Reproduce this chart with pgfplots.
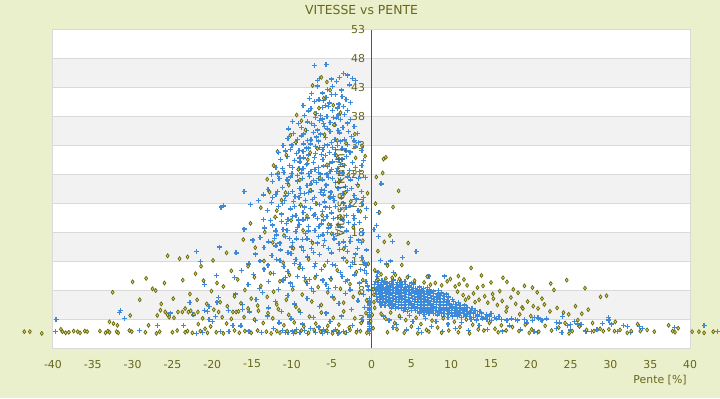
\documentclass[border=0pt]{standalone}
\usepackage{pgfplots}
\pgfplotsset{compat=1.18}
\usepackage{fontspec}
\setmainfont{DejaVu Sans}
\definecolor{bg}{HTML}{EBF0CC}
\definecolor{olivetxt}{HTML}{66661E}
\definecolor{axisolive}{HTML}{5C5C10}
\definecolor{bandgray}{HTML}{F2F2F2}
\definecolor{gridgray}{HTML}{D9D9D9}
\definecolor{ptblue}{HTML}{3C8AD9}
\definecolor{ptolive}{HTML}{666600}
\definecolor{olivefill}{HTML}{D6D68A}
\pgfplotsset{set layers}
\begin{document}
\pagecolor{bg}
\begin{tikzpicture}[x=1bp,y=1bp]
\path (0,0) rectangle (720,400);
\begin{axis}[
  at={(50bp,50bp)}, anchor=south west,
  width=640bp, height=320bp, scale only axis,
  xmin=-40, xmax=40, ymin=-2, ymax=53,
  xtick={-40,-35,...,40},
  ytick={-2,3,8,13,18,23,28,33,38,43,48,53},
  yticklabels={3,3,8,13,18,23,28,33,38,43,48,53},
  axis x line*=bottom, axis y line*=middle,
  x axis line style={gridgray, line width=1bp, -},
  y axis line style={axisolive, line width=1.5bp, -},
  major tick length=0pt,
  ymajorgrids, major grid style={gridgray, line width=0.8bp},
  /pgf/number format/assume math mode=true,
  ticklabel style={font=\fontsize{11}{13}\selectfont, text=olivetxt},
  xticklabel style={yshift=-8bp},
  yticklabel style={xshift=-3bp},
  clip=false,
  bluepts/.style={only marks, mark=+, mark size=2.5bp, color=ptblue, mark options={line width=1.3bp}},
  olivpts/.style={only marks, mark=diamond*, mark size=2.0bp, color=ptolive, mark options={fill=olivefill, draw=ptolive, line width=0.7bp}},
]
\begin{pgfonlayer}{axis background}
\fill[white] (axis cs:-40,-2) rectangle (axis cs:40,53);
\fill[bandgray] (axis cs:-40,3) rectangle (axis cs:40,8);
\fill[bandgray] (axis cs:-40,13) rectangle (axis cs:40,18);
\fill[bandgray] (axis cs:-40,23) rectangle (axis cs:40,28);
\fill[bandgray] (axis cs:-40,33) rectangle (axis cs:40,38);
\fill[bandgray] (axis cs:-40,43) rectangle (axis cs:40,48);
\draw[gridgray, line width=1bp] (axis cs:-40,-2) rectangle (axis cs:40,53);
\end{pgfonlayer}
% ---- blue, right band core
\addplot[bluepts] coordinates {
(0.5,9.6) (0.9,9.4) (1.3,9.7) (1.6,9.5) (2.0,9.3) (2.5,9.6) (2.8,9.8) (3.3,9.4) (3.7,9.6) (4.2,9.5) (5.0,9.3)
(0.4,9.0) (0.8,9.1) (1.2,8.9) (1.5,9.0) (1.9,9.2) (2.3,8.9) (2.7,9.1) (3.1,9.0) (3.5,8.8) (3.9,9.1) (4.3,9.0) (4.8,8.9) (5.3,9.1)
(0.4,8.5) (0.7,8.4) (1.1,8.6) (1.5,8.5) (1.8,8.3) (2.2,8.6) (2.6,8.5) (3.0,8.4) (3.4,8.6) (3.8,8.5) (4.2,8.3) (4.6,8.6) (5.0,8.5) (5.5,8.4) (6.0,8.6) (6.5,8.4) (7.0,8.5)
(0.5,8.0) (0.9,7.9) (1.3,8.1) (1.7,8.0) (2.0,7.8) (2.4,8.1) (2.8,8.0) (3.2,7.9) (3.6,8.1) (4.0,8.0) (4.4,7.8) (4.8,8.1) (5.2,8.0) (5.6,7.9) (6.0,8.1) (6.4,8.0) (6.9,7.8) (7.3,8.1) (7.8,7.9) (8.4,8.0)
(0.6,7.5) (1.0,7.4) (1.4,7.6) (1.8,7.5) (2.2,7.3) (2.6,7.6) (3.0,7.5) (3.4,7.4) (3.8,7.6) (4.2,7.5) (4.6,7.3) (5.0,7.6) (5.4,7.5) (5.8,7.4) (6.2,7.6) (6.6,7.5) (7.0,7.3) (7.4,7.6) (7.8,7.5) (8.3,7.4) (8.8,7.6) (9.4,7.4)
(0.6,7.0) (1.0,6.9) (1.4,7.1) (1.8,7.0) (2.2,6.8) (2.6,7.1) (3.0,7.0) (3.4,6.9) (3.8,7.1) (4.2,7.0) (4.6,6.8) (5.0,7.1) (5.4,7.0) (5.8,6.9) (6.2,7.1) (6.6,7.0) (7.0,6.8) (7.4,7.1) (7.8,7.0) (8.2,6.9) (8.6,7.1) (9.1,7.0) (9.7,6.9)
(0.7,6.5) (1.1,6.4) (1.5,6.6) (1.9,6.5) (2.3,6.3) (2.7,6.6) (3.1,6.5) (3.5,6.4) (3.9,6.6) (4.3,6.5) (4.7,6.3) (5.1,6.6) (5.5,6.5) (5.9,6.4) (6.3,6.6) (6.7,6.5) (7.1,6.3) (7.5,6.6) (7.9,6.5) (8.3,6.4) (8.7,6.6) (9.1,6.5) (9.6,6.3) (10.2,6.5)
(1.0,6.0) (1.4,5.9) (1.8,6.1) (2.2,6.0) (2.6,5.8) (3.0,6.1) (3.4,6.0) (3.8,5.9) (4.2,6.1) (4.6,6.0) (5.0,5.8) (5.4,6.1) (5.8,6.0) (6.2,5.9) (6.6,6.1) (7.0,6.0) (7.4,5.8) (7.8,6.1) (8.2,6.0) (8.6,5.9) (9.0,6.1) (9.4,6.0) (9.8,5.8) (10.3,6.1) (10.9,5.9)
(1.2,5.5) (1.7,5.4) (2.2,5.6) (2.6,5.5) (3.0,5.3) (3.4,5.6) (3.8,5.5) (4.2,5.4) (4.6,5.6) (5.0,5.5) (5.4,5.3) (5.8,5.6) (6.2,5.5) (6.6,5.4) (7.0,5.6) (7.4,5.5) (7.8,5.3) (8.2,5.6) (8.6,5.5) (9.0,5.4) (9.4,5.6) (9.8,5.5) (10.2,5.3) (10.6,5.6) (11.1,5.4) (11.7,5.5)
(2.5,5.0) (3.0,4.9) (3.4,5.1) (3.8,5.0) (4.2,4.8) (4.6,5.1) (5.0,5.0) (5.4,4.9) (5.8,5.1) (6.2,5.0) (6.6,4.8) (7.0,5.1) (7.4,5.0) (7.8,4.9) (8.2,5.1) (8.6,5.0) (9.0,4.8) (9.4,5.1) (9.8,5.0) (10.2,4.9) (10.6,5.1) (11.0,5.0) (11.5,4.8) (12.0,5.1) (12.6,4.9)
(4.0,4.5) (4.5,4.4) (5.0,4.6) (5.5,4.5) (6.0,4.3) (6.4,4.6) (6.8,4.5) (7.2,4.4) (7.6,4.6) (8.0,4.5) (8.4,4.3) (8.8,4.6) (9.2,4.5) (9.6,4.4) (10.0,4.6) (10.4,4.5) (10.8,4.3) (11.2,4.6) (11.6,4.5) (12.0,4.4) (12.5,4.6) (13.0,4.5) (13.6,4.4)
(6.0,4.0) (6.6,3.9) (7.2,4.1) (7.8,4.0) (8.3,3.8) (8.8,4.1) (9.2,4.0) (9.6,3.9) (10.0,4.1) (10.4,4.0) (10.8,3.8) (11.2,4.1) (11.6,4.0) (12.0,3.9) (12.4,4.1) (12.8,4.0) (13.3,3.8) (13.8,4.1) (14.4,3.9) (15.0,4.0)
(9.0,3.5) (9.6,3.4) (10.2,3.6) (10.8,3.5) (11.3,3.3) (11.8,3.6) (12.3,3.5) (12.8,3.4) (13.3,3.6) (13.8,3.5) (14.3,3.3) (14.8,3.6) (15.4,3.4) (16.0,3.5)
(12.5,3.0) (13.2,2.9) (13.9,3.1) (14.5,3.0) (15.1,2.8) (15.7,3.1) (16.3,3.0) (17.0,2.9) (17.6,3.1) (18.3,2.9) (19.2,3.0) (20.2,2.8) (21.0,3.2) (21.4,2.9) (22.0,3.1) (24.0,3.5) (25.5,2.6) (29.8,2.9) (21.2,3.0)
(20.5,3.4) (20.9,3.3) (18.1,3.0) (23.25,2.5) (23.6,2.4) (24.6,2.0) (25.0,2.1) (25.9,2.2) (26.3,2.1) (29.0,2.3) (29.75,3.3) (31.6,2.0) (33.6,1.8) (34.0,1.5) (32.5,0.8) (23.9,0.8) (20.4,0.9) (20.8,0.8) (41.75,2.0) (43.4,0.9) (30.9,0.9) (27.0,0.9) (27.6,0.9)
};
% ---- blue, right scattered
\addplot[bluepts] coordinates {
(1.5,3.6) (2.2,2.9) (3.1,2.1) (3.6,3.4) (4.4,1.2) (5.2,2.6) (5.9,1.5) (6.8,3.2) (7.5,1.8) (8.1,2.7) (8.9,0.9) (9.6,2.2) (10.5,1.4) (11.3,2.5) (12.2,1.1) (13.5,2.0) (14.6,1.3) (16.4,1.0) (17.3,1.9) (18.7,1.2) (19.5,2.4) (23.2,1.4) (25.0,1.2) (26.9,1.0) (28.3,1.2) (30.1,2.2) (32.1,1.8) (38.0,1.6) (2.7,1.6) (6.3,0.7) (4.8,3.7)
(0.8,11.2) (1.9,12.6) (2.4,13.1) (3.9,13.7) (4.6,10.4) (7.2,10.5) (5.3,9.3) (1.1,13.2) (0.7,10.4) (5.6,14.8) (2.6,16.5) (0.6,19.2) (0.9,21.5) (1.2,26.4) (0.9,17.3) (0.3,18.5) (9.2,10.5) (2.8,11.1)
(-0.25,0.6) (-0.25,0.9) (-0.25,1.2) (-0.25,1.5) (-0.25,1.8) (-0.25,2.1) (-0.25,2.4) (-0.25,2.7) (-0.25,3.0) (-0.25,3.3) (-0.25,3.6) (-0.25,3.9) (-0.25,4.2) (-0.25,4.5) (-0.25,4.8) (-0.25,5.1) (-0.25,5.4) (-0.25,5.7) (-0.25,6.0) (-0.25,6.3) (-0.25,6.6)
(-0.6,11.0) (-0.9,12.8) (-0.4,8.1) (-0.7,9.6) (-1.0,7.3)
};
% ---- blue, left cluster
\addplot[bluepts] coordinates {
(-7.2,46.8) (-5.7,47.0) (-6.5,44.6) (-5.0,44.5) (-4.0,44.8) (-3.5,45.5) (-3.0,45.2) (-2.4,44.6) (-6.8,44.2) (-4.4,44.1) (-2.0,44.3)
(-7.5,42.0) (-7.2,40.6) (-6.2,42.1) (-5.7,41.3) (-5.3,40.4) (-4.9,43.2) (-4.5,41.8) (-6.8,43.3) (-3.8,42.6) (-3.2,41.0) (-4.1,40.2) (-6.0,40.8) (-2.8,43.5) (-5.5,42.7) (-7.8,41.2) (-3.5,39.8)
(-8.4,38.2) (-8.0,37.1) (-7.6,39.4) (-7.2,36.5) (-6.9,38.6) (-6.5,37.4) (-6.2,39.6) (-5.9,36.3) (-5.6,38.1) (-5.2,37.0) (-4.9,39.1) (-4.6,36.6) (-4.2,38.3) (-3.9,37.5) (-3.4,38.4) (-3.0,36.9) (-7.0,37.9) (-5.4,39.8) (-4.4,37.8) (-8.8,36.2) (-6.0,36.8) (-2.6,37.5)
(-11.1,33.0) (-10.5,34.2) (-10.2,32.4) (-9.8,35.1) (-9.5,33.6) (-9.1,32.2) (-8.8,34.7) (-8.5,33.3) (-8.2,35.6) (-7.9,32.6) (-7.6,34.0) (-7.3,35.3) (-7.0,32.9) (-6.7,33.8) (-6.4,35.0) (-6.1,32.3) (-5.8,34.4) (-5.5,33.1) (-5.2,35.4) (-4.9,32.7) (-4.6,34.1) (-4.3,33.0) (-4.0,35.2) (-3.7,32.5) (-3.4,34.0) (-3.0,33.2) (-2.5,34.6) (-2.0,32.8) (-1.6,33.5) (-6.9,34.5) (-8.0,33.9) (-5.0,33.6)
(-12.0,29.3) (-11.4,30.6) (-11.0,28.4) (-10.6,31.2) (-10.3,29.6) (-10.0,28.2) (-9.7,30.4) (-9.4,31.6) (-9.1,29.0) (-8.8,28.3) (-8.5,30.9) (-8.2,29.7) (-7.9,31.4) (-7.6,28.6) (-7.3,30.1) (-7.0,31.7) (-6.7,29.2) (-6.4,28.1) (-6.1,30.6) (-5.8,31.3) (-5.5,29.4) (-5.2,28.5) (-4.9,30.2) (-4.6,31.5) (-4.3,29.1) (-4.0,28.2) (-3.7,30.7) (-3.4,29.6) (-3.1,31.1) (-2.8,28.7) (-2.4,30.1) (-2.0,29.2) (-1.5,28.6) (-1.0,30.4) (-8.0,29.9) (-6.0,29.5) (-9.0,30.2) (-5.0,28.9) (-7.1,28.9) (-3.9,29.8)
(-13.0,25.4) (-12.4,26.8) (-12.0,24.6) (-11.6,27.3) (-11.2,25.8) (-10.8,24.3) (-10.5,26.5) (-10.2,27.6) (-9.9,25.1) (-9.6,24.2) (-9.3,26.9) (-9.0,25.6) (-8.7,27.4) (-8.4,24.7) (-8.1,26.1) (-7.8,27.7) (-7.5,25.2) (-7.2,24.1) (-6.9,26.6) (-6.6,27.3) (-6.3,25.5) (-6.0,24.5) (-5.7,26.2) (-5.4,27.5) (-5.1,25.0) (-4.8,24.2) (-4.5,26.7) (-4.2,25.6) (-3.9,27.2) (-3.6,24.7) (-3.3,26.0) (-3.0,25.3) (-2.6,27.1) (-2.2,24.4) (-1.8,26.3) (-1.3,25.1) (-0.8,27.5) (-7.6,26.4) (-5.9,25.3) (-8.9,24.8)
(-13.1,21.8) (-12.6,23.2) (-12.1,20.6) (-11.7,22.5) (-11.3,21.2) (-10.9,23.6) (-10.5,20.3) (-10.2,22.1) (-9.8,23.4) (-9.5,21.0) (-9.2,20.2) (-8.9,22.7) (-8.6,21.5) (-8.3,23.5) (-8.0,20.5) (-7.7,22.2) (-7.4,23.7) (-7.1,21.1) (-6.8,20.4) (-6.5,22.8) (-6.2,21.6) (-5.9,23.3) (-5.6,20.8) (-5.3,22.3) (-5.0,21.4) (-4.7,23.5) (-4.3,20.6) (-3.9,22.0) (-3.5,23.1) (-3.1,21.0) (-2.7,22.6) (-2.2,20.4) (-1.7,21.8) (-1.2,23.0) (-18.9,22.4) (-18.6,22.6) (-16.0,25.1) (-15.2,22.9) (-14.2,23.6)
(-14.0,17.2) (-13.4,18.8) (-12.9,16.4) (-12.4,19.3) (-11.9,17.6) (-11.5,16.2) (-11.1,18.5) (-10.7,19.6) (-10.3,17.0) (-9.9,16.3) (-9.5,18.2) (-9.1,19.4) (-8.7,16.8) (-8.3,17.9) (-7.9,19.1) (-7.5,16.5) (-7.1,18.4) (-6.7,17.3) (-6.3,19.5) (-5.9,16.6) (-5.5,18.0) (-5.1,19.2) (-4.7,16.9) (-4.3,17.8) (-3.9,19.0) (-3.5,16.4) (-3.1,18.3) (-2.6,17.1) (-2.1,19.4) (-1.6,16.7) (-1.1,18.0) (-16.0,18.6) (-14.9,16.7)
(-15.4,12.6) (-14.6,14.3) (-14.0,13.1) (-13.5,15.4) (-13.0,12.4) (-12.5,14.0) (-12.0,15.7) (-11.5,13.2) (-11.0,12.2) (-10.5,14.6) (-10.0,15.5) (-9.5,13.4) (-9.0,12.5) (-8.5,14.9) (-8.0,13.8) (-7.5,15.3) (-7.0,12.7) (-6.5,14.2) (-6.0,15.8) (-5.5,13.0) (-5.0,14.5) (-4.5,12.3) (-4.0,15.1) (-3.5,13.6) (-3.0,14.8) (-2.4,12.9) (-1.8,15.2) (-1.2,13.7) (-0.7,12.4) (-17.0,14.5) (-22.0,14.7) (-21.5,13.0) (-19.1,15.5)
(-17.2,10.2) (-16.3,11.5) (-15.5,9.0) (-14.8,10.8) (-14.1,8.4) (-13.5,11.7) (-12.9,9.6) (-12.3,10.9) (-11.7,8.2) (-11.1,9.8) (-10.5,11.3) (-9.9,8.7) (-9.3,10.4) (-8.7,11.8) (-8.1,9.2) (-7.5,8.3) (-6.9,10.6) (-6.3,11.6) (-5.7,9.1) (-5.1,10.1) (-4.5,8.5) (-3.9,11.1) (-3.3,9.5) (-2.7,8.1) (-2.1,10.7) (-1.5,9.3) (-0.9,11.4) (-0.5,8.8) (-19.5,10.6) (-21.0,9.0)
(-20.4,5.2) (-19.2,6.8) (-18.0,4.6) (-17.1,7.4) (-16.2,5.6) (-15.3,4.3) (-14.5,6.5) (-13.7,7.7) (-12.9,5.0) (-12.1,6.1) (-11.3,4.4) (-10.5,7.2) (-9.7,5.7) (-8.9,4.2) (-8.1,6.6) (-7.3,7.8) (-6.5,5.3) (-5.7,4.1) (-4.9,6.9) (-4.1,5.8) (-3.3,7.5) (-2.5,4.7) (-1.7,6.2) (-0.9,5.1) (-22.8,5.9) (-25.2,4.1)
(-39.6,3.0) (-39.7,0.9) (-31.6,4.2) (-31.5,4.6) (-31.0,3.2) (-29.1,1.1) (-26.9,2.0) (-23.6,2.0) (-22.4,3.8) (-22.0,0.6) (-21.2,0.7) (-21.0,4.5) (-20.6,4.4) (-20.4,3.0) (-20.0,2.6) (-19.4,6.0) (-19.6,3.5) (-19.0,0.9) (-17.9,0.9) (-17.4,2.0) (-16.4,1.9) (-16.2,4.7) (-15.4,1.0) (-14.6,2.8) (-13.8,0.8) (-13.1,3.6) (-12.3,1.5) (-11.6,2.4) (-10.8,0.7) (-10.1,3.1) (-9.4,1.3) (-8.7,2.2) (-8.0,0.6) (-7.3,3.4) (-6.6,1.7) (-5.9,0.9) (-5.2,2.7) (-4.5,1.2) (-3.8,3.6) (-3.1,0.7) (-2.4,2.0) (-1.8,1.1) (-1.2,3.0) (-6.2,0.6) (-7.7,1.4) (-9.8,0.6) (-11.2,1.1) (-4.0,0.8)
(-10.5,0.8) (-9.9,1.0) (-9.0,0.7) (-8.4,1.1) (-7.0,0.8) (-6.0,1.2) (-5.5,0.7) (-4.8,1.0) (-4.2,0.6) (-3.5,0.9)
};
% ---- olive
\addplot[olivpts] coordinates {
(-43.6,0.9) (-42.9,0.9) (-41.4,0.6) (-39.0,1.3) (-38.8,0.9) (-38.4,0.7) (-38.0,0.8) (-37.4,1.0) (-36.9,0.9) (-36.6,0.7) (-36.0,1.0) (-35.7,0.9) (-34.1,1.0) (-33.4,0.7) (-33.1,1.0) (-32.9,0.8) (-32.0,0.9) (-31.8,0.7) (-30.4,1.1) (-30.1,0.9) (-28.4,0.8) (-27.0,0.6) (-26.6,0.9) (-25.0,0.8) (-24.4,1.1) (-23.4,0.8) (-23.1,1.0) (-22.5,0.7) (-21.5,1.0) (-20.9,1.4) (-20.6,0.7) (-19.5,0.8) (-18.6,0.6) (-17.2,1.1) (-16.6,0.7) (-15.9,1.0) (-15.1,0.7) (-14.3,1.1) (-13.2,0.9) (-12.6,0.6) (-11.9,1.0) (-11.5,0.7) (-10.6,1.0) (-9.5,0.8) (-8.8,1.1) (-7.9,0.7) (-7.2,1.2) (-6.4,0.9) (-5.6,1.1) (-4.9,0.6) (-4.3,1.0) (-3.3,0.7) (-2.7,1.2) (-1.9,0.8) (-1.4,1.0) (-0.6,0.7)
(-32.9,2.6) (-32.4,2.3) (-31.9,2.0) (-30.3,3.7) (-26.9,3.7) (-26.5,4.6) (-25.9,4.3) (-25.6,3.8) (-25.4,3.4) (-24.8,3.3) (-24.3,4.3) (-23.75,4.3) (-23.4,4.9) (-23.0,4.3) (-22.7,4.5) (-22.3,3.9) (-21.75,2.2) (-21.8,4.3) (-21.2,3.2) (-19.8,4.7) (-19.2,4.3) (-18.75,3.4) (-17.6,3.1) (-17.4,4.3) (-17.0,4.3) (-16.7,4.4) (-16.0,3.4) (-15.5,4.9) (-14.7,3.0) (-14.2,4.5) (-13.6,2.4) (-13.0,4.1) (-12.4,3.2) (-11.7,4.8) (-11.0,2.0) (-10.4,3.8) (-9.7,2.5) (-9.1,4.6) (-8.5,1.8) (-7.8,3.5) (-7.0,2.3) (-6.3,4.2) (-5.5,1.9) (-4.8,3.3) (-4.1,2.1) (-3.5,4.4) (-2.8,1.6) (-2.1,3.2) (-1.3,2.4) (-0.7,4.1) (-28.0,2.0) (-20.2,1.8) (-18.2,2.3)
(-30.0,9.5) (-27.5,8.3) (-27.1,8.0) (-26.0,9.3) (-25.6,14.0) (-24.1,13.5) (-24.9,6.6) (-23.1,13.8) (-22.1,10.9) (-22.8,7.4) (-21.9,6.4) (-21.1,9.7) (-20.7,5.7) (-20.1,7.9) (-19.4,9.3) (-19.0,6.0) (-18.6,8.7) (-18.1,5.3) (-17.6,11.4) (-17.2,7.0) (-16.8,9.9) (-16.4,5.8) (-15.9,8.1) (-15.5,12.2) (-15.1,6.6) (-14.7,10.3) (-14.3,5.4) (-13.9,8.8) (-13.5,13.1) (-13.1,6.9) (-12.7,11.0) (-12.3,7.8) (-11.9,5.6) (-11.5,9.6) (-11.1,12.8) (-10.7,6.4) (-10.3,10.7) (-9.9,8.2) (-9.5,5.2) (-9.1,11.9) (-8.7,7.3) (-8.3,9.7) (-7.9,13.4) (-7.5,6.1) (-7.1,10.2) (-6.7,8.6) (-6.3,5.5) (-5.9,12.3) (-5.5,7.7) (-5.1,9.9) (-4.7,6.6) (-4.3,11.5) (-3.9,8.3) (-3.5,5.9) (-3.1,13.0) (-2.7,9.1) (-2.3,6.9) (-1.9,11.2) (-1.5,7.6) (-1.1,9.8) (-0.6,6.3) (-0.4,12.6) (-32.5,7.7) (-29.1,6.4) (-28.3,10.1) (-26.4,5.7) (-23.7,9.8) (-21.4,12.2) (-19.9,13.2) (-18.2,14.5)
(-16.1,16.8) (-15.2,19.6) (-14.6,15.4) (-13.9,22.3) (-13.4,18.1) (-12.8,25.0) (-12.4,16.3) (-12.1,20.7) (-11.7,28.3) (-11.3,23.6) (-11.0,17.5) (-10.7,31.4) (-10.4,26.2) (-10.1,20.1) (-9.8,15.3) (-9.5,33.6) (-9.2,28.9) (-8.9,22.8) (-8.6,18.4) (-8.3,35.7) (-8.0,30.6) (-7.7,25.3) (-7.4,16.2) (-7.1,38.6) (-6.8,32.5) (-6.5,27.4) (-6.2,21.0) (-5.9,34.9) (-5.6,29.7) (-5.3,24.1) (-5.0,17.8) (-4.7,36.6) (-4.4,31.3) (-4.1,26.7) (-3.8,20.6) (-3.5,15.2) (-3.2,33.4) (-2.9,28.0) (-2.6,23.4) (-2.3,18.9) (-2.0,30.9) (-1.7,26.1) (-1.4,21.7) (-1.1,16.6) (-0.8,31.2) (-0.5,24.8) (-6.0,41.2) (-5.2,42.6) (-4.8,40.0) (-7.4,43.4) (-6.6,39.5) (-3.9,38.7) (-8.8,37.3) (-10.2,34.8) (-11.8,32.0) (-12.3,29.6) (-13.1,27.2) (-6.3,44.8) (-5.6,44.0) (-9.4,38.3) (-4.3,33.9) (-7.7,31.8) (-9.0,27.1) (-6.9,23.0) (-5.4,19.4) (-3.3,24.9) (-2.1,35.0) (-1.2,33.0) (-8.1,20.9) (-10.8,24.9) (-11.9,21.8)
(0.5,23.0) (1.0,21.5) (1.4,28.3) (1.5,30.7) (1.8,31.0) (2.7,22.4) (3.4,25.2) (2.3,17.5) (1.6,16.4) (4.6,16.2) (0.6,27.6) (0.8,14.8) (2.0,12.3) (0.4,11.5) (1.2,10.8) (3.0,10.7) (3.8,12.4)
(6.6,9.4) (8.0,9.3) (9.9,10.0) (12.5,11.9) (12.0,8.9) (11.0,9.1) (10.5,8.7) (13.3,8.5) (14.0,8.8) (15.0,9.4) (15.2,7.4) (16.1,7.9) (17.0,9.5) (17.8,8.2) (18.4,7.6) (19.2,8.8) (20.2,8.5) (20.8,7.7) (22.5,9.2) (22.9,8.1) (21.4,6.6) (5.4,9.7) (7.4,9.0) (8.8,8.9) (9.5,9.6) (11.6,9.9) (13.8,10.6) (16.5,10.2) (7.0,10.4) (4.5,10.3) (3.5,10.0) (2.6,10.2) (1.8,10.1) (0.8,9.9) (10.9,10.5)
(10.8,7.8) (11.5,7.2) (12.2,6.8) (12.8,7.5) (13.5,6.4) (14.2,7.0) (14.6,5.9) (15.3,6.6) (15.8,5.5) (16.4,6.2) (17.0,5.1) (17.5,6.8) (18.1,5.7) (18.9,5.1) (19.0,4.9) (19.6,6.1) (20.3,5.3) (20.9,4.9) (21.7,5.6) (22.4,4.4) (23.3,5.0) (24.1,4.2) (24.75,3.9) (25.6,5.3) (26.4,4.0) (27.2,4.7) (13.0,6.0) (11.8,6.4) (16.9,4.4) (18.6,3.9) (20.0,3.6)
(1.2,4.0) (1.8,3.1) (2.4,4.2) (2.9,2.4) (3.5,3.6) (4.1,0.7) (4.3,2.9) (5.0,1.8) (5.6,3.3) (6.2,2.2) (6.9,1.2) (7.6,2.8) (8.3,1.6) (9.0,3.2) (9.7,1.1) (10.4,2.6) (11.1,1.7) (11.9,3.0) (12.7,2.1) (13.4,1.3) (14.1,1.1) (14.8,2.4) (15.5,1.4) (16.3,2.0) (16.9,1.1) (17.7,1.7) (18.5,1.0) (19.3,2.1) (20.1,1.3) (21.0,0.9) (21.8,1.9) (22.6,1.1) (23.5,1.6) (24.3,2.4) (25.2,1.0) (26.1,1.8) (27.0,1.2) (27.75,2.4) (27.9,1.0) (28.7,1.4) (29.1,1.0) (29.8,1.3) (30.5,1.0) (31.2,1.2) (32.1,0.7) (32.6,1.0) (33.75,1.0) (34.6,1.2) (35.5,0.9) (37.3,2.0) (37.8,1.0) (38.1,0.8) (38.5,1.5) (40.25,0.9) (41.1,0.9) (41.75,0.7) (42.9,0.9) (2.0,0.8) (3.2,1.3) (5.8,0.6) (7.2,0.9) (8.8,0.7) (10.9,0.8) (12.3,0.6) (15.9,0.8) (19.8,0.7) (24.8,0.6) (28.75,6.9) (29.5,7.1) (26.8,8.4) (24.5,9.8) (25.9,2.9) (30.6,2.6) (33.4,2.2)
(0.2,1.5) (0.1,3.8) (0.3,6.0) (0.2,8.2) (-0.1,2.7) (0.4,5.0) (0.3,7.3)
};
% ---- blue, left cluster (second batch, drawn over the olive)
\addplot[bluepts] coordinates {
(-7.9,39.0) (-6.6,40.9) (-5.0,41.9) (-4.3,39.5) (-3.0,39.1) (-6.4,38.2) (-5.8,40.0) (-3.7,41.5) (-2.6,40.5) (-8.6,40.0)
(-9.2,36.8) (-8.5,35.0) (-7.5,36.8) (-6.8,35.7) (-6.2,37.6) (-5.5,35.9) (-4.8,37.9) (-4.2,35.6) (-3.6,36.2) (-2.9,35.4) (-2.2,36.3) (-9.9,37.2) (-10.4,35.9) (-1.8,35.1)
(-10.8,32.1) (-10.0,33.1) (-9.3,34.1) (-8.6,32.0) (-7.7,33.3) (-7.2,31.0) (-6.5,32.7) (-5.9,33.0) (-5.3,31.8) (-4.5,32.3) (-3.9,33.8) (-3.2,32.1) (-2.7,31.9) (-2.2,33.9) (-1.2,32.2) (-11.7,31.8) (-9.0,30.9) (-6.3,31.5) (-4.1,30.7) (-8.2,32.6)
(-11.8,28.1) (-11.2,29.1) (-10.6,27.1) (-9.9,29.3) (-9.3,27.8) (-8.6,29.1) (-7.9,28.2) (-7.3,27.0) (-6.7,28.4) (-6.2,27.1) (-5.6,28.1) (-4.9,27.3) (-4.4,28.5) (-3.6,28.3) (-3.0,27.6) (-2.3,28.2) (-1.6,27.3) (-1.2,29.6) (-12.6,28.0) (-5.3,29.9)
(-12.4,24.1) (-11.8,25.1) (-11.2,23.0) (-10.4,24.8) (-9.7,22.5) (-9.1,24.1) (-8.4,22.4) (-7.9,24.9) (-7.0,23.0) (-6.4,24.9) (-5.8,22.4) (-5.2,24.0) (-4.5,22.5) (-3.8,24.1) (-3.2,22.3) (-2.5,25.6) (-1.9,23.8) (-1.0,24.1) (-13.6,24.5) (-0.6,22.2)
(-12.7,20.1) (-12.0,18.3) (-11.3,19.9) (-10.6,18.4) (-9.9,20.8) (-9.3,18.9) (-8.6,20.2) (-7.9,18.3) (-7.3,20.9) (-6.6,19.0) (-6.0,20.2) (-5.4,18.8) (-4.8,20.4) (-4.2,19.3) (-3.6,20.2) (-2.9,19.7) (-2.3,21.0) (-1.5,19.8) (-0.8,20.6) (-13.6,20.3)
(-12.2,17.0) (-11.4,15.0) (-10.8,17.3) (-10.1,14.4) (-9.4,16.9) (-8.8,15.5) (-8.1,16.9) (-7.3,14.6) (-6.8,16.2) (-6.1,17.6) (-5.4,15.3) (-4.8,17.7) (-4.1,16.1) (-3.3,15.6) (-2.7,16.5) (-2.0,14.3) (-1.3,16.3) (-0.6,15.0)
(-11.9,13.3) (-10.8,10.3) (-9.7,12.7) (-8.4,10.2) (-7.2,12.1) (-6.1,9.8) (-4.9,12.5) (-3.7,10.4) (-2.6,12.1) (-1.4,11.6) (-10.2,9.3) (-7.8,9.9) (-5.4,8.3) (-3.0,9.8)
};
\end{axis}
\node[text=olivetxt, font=\fontsize{12.5}{14}\selectfont, rotate=90] at (339,206) {Vitesse [km/h]};
\node[text=olivetxt, font=\fontsize{12.5}{15}\selectfont] at (360,390) {VITESSE vs PENTE};
\node[text=olivetxt, font=\fontsize{11}{13}\selectfont, anchor=east] at (690,18) {Pente [\%]};
\pgfresetboundingbox
\useasboundingbox (0,0) rectangle (720,400);
\end{tikzpicture}
\end{document}
